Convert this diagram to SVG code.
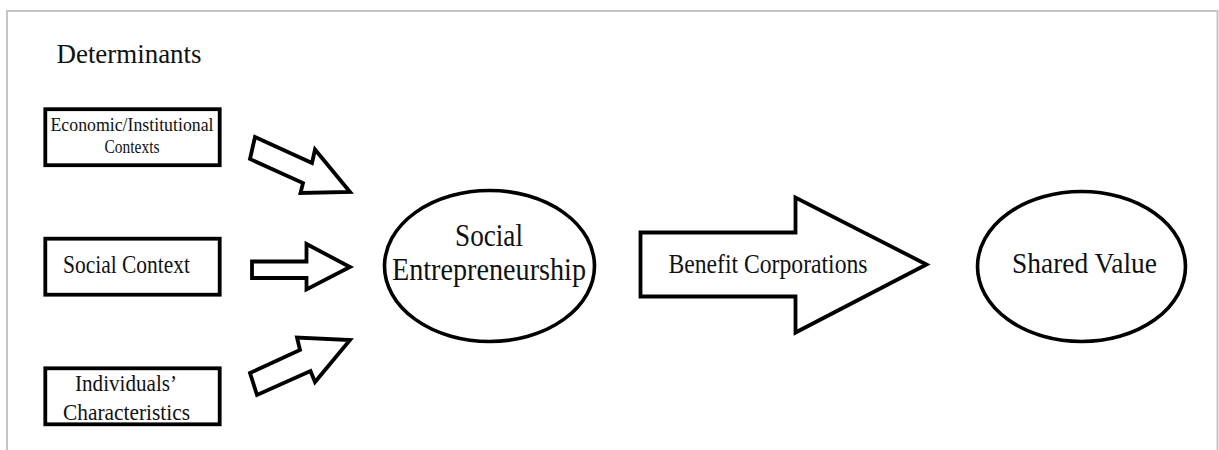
<svg xmlns="http://www.w3.org/2000/svg" width="1219" height="450" viewBox="0 0 1219 450">
  <style>
    .frame { fill: none; stroke: #c4c4c4; stroke-width: 2; }
    .box { fill: #fff; stroke: #000; stroke-width: 3.8; }
    .oval { fill: #fff; stroke: #000; stroke-width: 3.6; }
    .arrow { fill: #fff; stroke: #000; stroke-width: 3.8; stroke-linejoin: miter; }
    text { font-family: "Liberation Serif", "Times New Roman", serif; fill: #111; text-anchor: middle; }
  </style>
  <rect width="1219" height="450" fill="#fff"/>
  <!-- open frame around the figure -->
  <path class="frame" d="M7,450 V11 H1217.5 V450"/>

  <text id="title" x="129" y="63" font-size="27.5" textLength="145" lengthAdjust="spacingAndGlyphs">Determinants</text>

  <g id="economic-context">
    <rect class="box" x="45.3" y="109.2" width="174.4" height="56"/>
    <text x="132" y="131" font-size="19.6" textLength="163" lengthAdjust="spacingAndGlyphs">Economic/Institutional</text>
    <text x="132" y="153" font-size="19.6" textLength="55" lengthAdjust="spacingAndGlyphs">Contexts</text>
  </g>

  <g id="social-context">
    <rect class="box" x="45.3" y="238.7" width="174.4" height="56"/>
    <text x="126.5" y="273.3" font-size="25" textLength="127" lengthAdjust="spacingAndGlyphs">Social Context</text>
  </g>

  <g id="individual-characteristics">
    <rect class="box" x="45.3" y="368.3" width="174.4" height="56"/>
    <text x="126" y="391.3" font-size="24" textLength="102" lengthAdjust="spacingAndGlyphs">Individuals’</text>
    <text x="126.5" y="419.5" font-size="24" textLength="127" lengthAdjust="spacingAndGlyphs">Characteristics</text>
  </g>

  <g id="social-entrepreneurship">
    <ellipse class="oval" cx="489.5" cy="266" rx="105" ry="75.5"/>
    <text x="489" y="246" font-size="32" textLength="68" lengthAdjust="spacingAndGlyphs">Social</text>
    <text x="489" y="280" font-size="32" textLength="194" lengthAdjust="spacingAndGlyphs">Entrepreneurship</text>
  </g>

  <g id="shared-value">
    <ellipse class="oval" cx="1081.5" cy="266.5" rx="104" ry="75"/>
    <text x="1084.5" y="273" font-size="29.5" textLength="145" lengthAdjust="spacingAndGlyphs">Shared Value</text>
  </g>

  <g id="connectors">
    <polygon class="arrow" points="255,137 312,163 315,149.5 350,192 300.5,193 303,183 250,159"/>
    <polygon class="arrow" points="252,261.5 306.5,261.5 306.5,244 350,267 306.5,289.5 306.5,278 252,278"/>
    <polygon class="arrow" points="250,373 300,350 297,337.5 350,340 315,382 310.5,371 257,395"/>
    <g id="benefit-corporations">
      <polygon class="arrow" points="640.5,232.5 795.5,232.5 795.5,197.5 926.5,264.5 795.5,332.5 795.5,296.5 640.5,296.5"/>
      <text x="768" y="273.3" font-size="27" textLength="199" lengthAdjust="spacingAndGlyphs">Benefit Corporations</text>
    </g>
  </g>
</svg>
